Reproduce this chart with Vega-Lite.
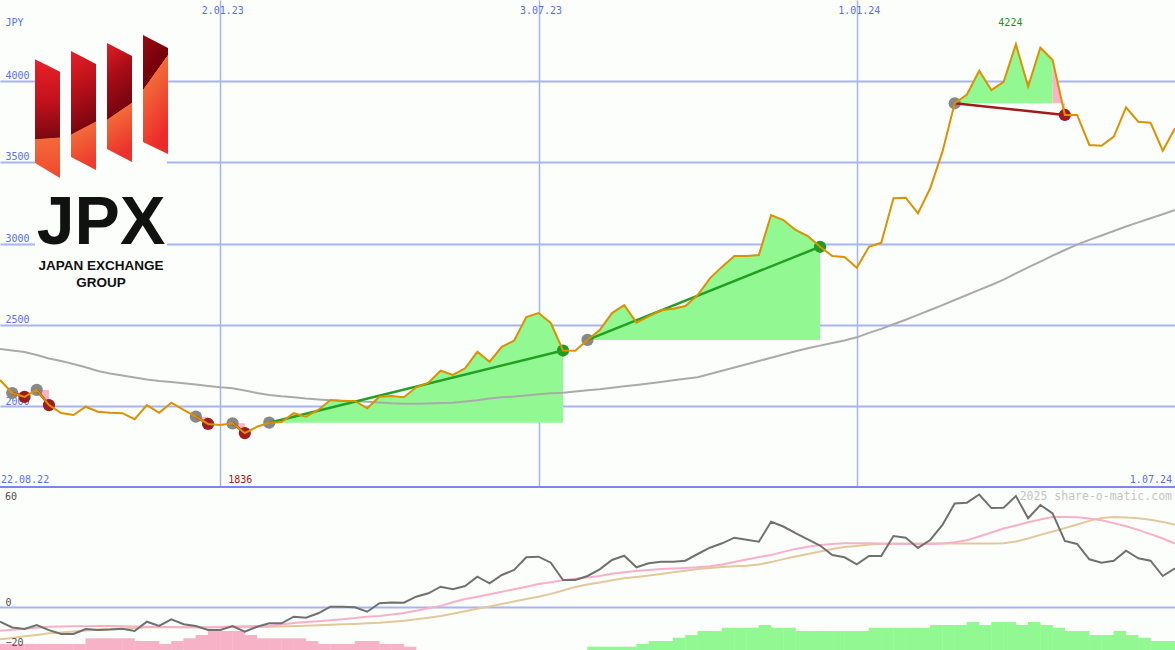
{
  "$schema": "https://vega.github.io/schema/vega-lite/v6.json",
  "width": 1175,
  "height": 650,
  "autosize": {"type": "none"},
  "padding": 0,
  "background": "#fcfefc",
  "config": {
    "view": {"stroke": null},
    "scale": {"continuousPadding": 0},
    "axis": {"domain": false, "ticks": false, "tickSize": 0, "labelFont": "DejaVu Sans Mono", "labelFontSize": 10, "gridColor": "#a8b4f0", "gridOpacity": 1, "labelFlush": false, "labelOverlap": false}
  },
  "datasets": {
    "w": [
      {"d":"2022-08-29","p":2162,"ma":2352,"o":-7.1,"s1":-11.6,"s2":-15.9,"hn":-18.25},
      {"d":"2022-09-05","p":2082,"ma":2343,"o":-10,"s1":-11.1,"s2":-15.2,"hn":-18.25},
      {"d":"2022-09-12","p":2058,"ma":2334,"o":-10.75,"s1":-10.6,"s2":-14.4,"hn":-18.25},
      {"d":"2022-09-19","p":2101,"ma":2315,"o":-8.75,"s1":-10.1,"s2":-13.7,"hn":-18.25},
      {"d":"2022-09-26","p":2008,"ma":2294,"o":-11.3,"s1":-9.6,"s2":-12.9,"hn":-18.25},
      {"d":"2022-10-03","p":1959,"ma":2279,"o":-13.25,"s1":-9.5,"s2":-12.5,"hn":-18.25},
      {"d":"2022-10-10","p":1947,"ma":2260,"o":-13.25,"s1":-9.4,"s2":-12.0,"hn":-18.25},
      {"d":"2022-10-17","p":1998,"ma":2240,"o":-10.75,"s1":-9.35,"s2":-11.5,"hn":-15.4},
      {"d":"2022-10-24","p":1967,"ma":2217,"o":-11.25,"s1":-9.25,"s2":-11.0,"hn":-15.4},
      {"d":"2022-10-31","p":1961,"ma":2202,"o":-11,"s1":-9.3,"s2":-10.7,"hn":-15.4},
      {"d":"2022-11-07","p":1958,"ma":2190,"o":-10.6,"s1":-9.4,"s2":-10.5,"hn":-15.4},
      {"d":"2022-11-14","p":1921,"ma":2177,"o":-11.75,"s1":-9.5,"s2":-10.2,"hn":-16.75},
      {"d":"2022-11-21","p":2008,"ma":2165,"o":-7.1,"s1":-9.6,"s2":-9.9,"hn":-16.75},
      {"d":"2022-11-28","p":1961,"ma":2156,"o":-9.25,"s1":-9.7,"s2":-9.9,"hn":-18.25},
      {"d":"2022-12-05","p":2023,"ma":2150,"o":-5.9,"s1":-9.8,"s2":-9.9,"hn":-16.75},
      {"d":"2022-12-12","p":1978,"ma":2142,"o":-8.4,"s1":-9.9,"s2":-9.9,"hn":-15.4},
      {"d":"2022-12-19","p":1937,"ma":2134,"o":-9.25,"s1":-9.9,"s2":-9.9,"hn":-13.75},
      {"d":"2022-12-26","p":1892,"ma":2125,"o":-11.25,"s1":-9.95,"s2":-9.9,"hn":-11.75},
      {"d":"2023-01-02","p":1886,"ma":2117,"o":-11.25,"s1":-9.7,"s2":-9.9,"hn":-11.75},
      {"d":"2023-01-09","p":1896,"ma":2111,"o":-9.25,"s1":-9.5,"s2":-9.9,"hn":-11.75},
      {"d":"2023-01-16","p":1836,"ma":2098,"o":-12.1,"s1":-9.4,"s2":-9.9,"hn":-13.75},
      {"d":"2023-01-23","p":1875,"ma":2082,"o":-9.6,"s1":-9.3,"s2":-9.8,"hn":-15.4},
      {"d":"2023-01-30","p":1900,"ma":2070,"o":-7.9,"s1":-9.1,"s2":-9.6,"hn":-15.4},
      {"d":"2023-02-06","p":1904,"ma":2062,"o":-7.9,"s1":-8.5,"s2":-9.5,"hn":-15.4},
      {"d":"2023-02-13","p":1958,"ma":2056,"o":-4.6,"s1":-7.8,"s2":-9.3,"hn":-15.4},
      {"d":"2023-02-20","p":1937,"ma":2048,"o":-5.1,"s1":-7.3,"s2":-9.1,"hn":-16.75},
      {"d":"2023-02-27","p":1978,"ma":2042,"o":-2.9,"s1":-6.9,"s2":-8.9,"hn":-18.25},
      {"d":"2023-03-06","p":2039,"ma":2037,"o":0.4,"s1":-6.4,"s2":-8.6,"hn":-18.25},
      {"d":"2023-03-13","p":2033,"ma":2034,"o":0.4,"s1":-5.9,"s2":-8.4,"hn":-18.25},
      {"d":"2023-03-20","p":2033,"ma":2031,"o":0.1,"s1":-5.2,"s2":-8.2,"hn":-16.75},
      {"d":"2023-03-27","p":1988,"ma":2028,"o":-2.1,"s1":-4.6,"s2":-7.9,"hn":-16.75},
      {"d":"2023-04-03","p":2059,"ma":2024,"o":2.1,"s1":-4.2,"s2":-7.6,"hn":-18.25},
      {"d":"2023-04-10","p":2064,"ma":2019,"o":2.5,"s1":-3.5,"s2":-7.1,"hn":-18.25},
      {"d":"2023-04-17","p":2056,"ma":2016,"o":2.4,"s1":-2.7,"s2":-6.6,"hn":-19.6},
      {"d":"2023-04-24","p":2117,"ma":2016,"o":5.4,"s1":-1.6,"s2":-5.9},
      {"d":"2023-05-01","p":2145,"ma":2018,"o":7.1,"s1":-0.4,"s2":-5.1},
      {"d":"2023-05-08","p":2219,"ma":2020,"o":10.4,"s1":0.8,"s2":-4.2},
      {"d":"2023-05-15","p":2193,"ma":2023,"o":9.1,"s1":2.6,"s2":-3.1},
      {"d":"2023-05-22","p":2234,"ma":2030,"o":10.75,"s1":4.2,"s2":-1.9},
      {"d":"2023-05-29","p":2336,"ma":2037,"o":15.4,"s1":5.4,"s2":-0.6},
      {"d":"2023-06-05","p":2274,"ma":2048,"o":12.1,"s1":6.6,"s2":0.5},
      {"d":"2023-06-12","p":2366,"ma":2056,"o":16.25,"s1":7.9,"s2":1.8},
      {"d":"2023-06-19","p":2403,"ma":2060,"o":18.75,"s1":9.1,"s2":3.0},
      {"d":"2023-06-26","p":2549,"ma":2067,"o":25.1,"s1":10.4,"s2":4.2},
      {"d":"2023-07-03","p":2573,"ma":2075,"o":25.4,"s1":11.7,"s2":5.4},
      {"d":"2023-07-10","p":2512,"ma":2080,"o":22.4,"s1":12.6,"s2":6.8},
      {"d":"2023-07-17","p":2343,"ma":2084,"o":13.75,"s1":13.6,"s2":8.5},
      {"d":"2023-07-24","p":2341,"ma":2091,"o":13.75,"s1":14.4,"s2":10.3},
      {"d":"2023-07-31","p":2408,"ma":2099,"o":15.75,"s1":15.0,"s2":11.5,"hp":-19.6},
      {"d":"2023-08-07","p":2469,"ma":2105,"o":19.1,"s1":15.8,"s2":12.5,"hp":-19.6},
      {"d":"2023-08-14","p":2573,"ma":2114,"o":23.75,"s1":16.9,"s2":13.6,"hp":-19.6},
      {"d":"2023-08-21","p":2622,"ma":2123,"o":25.9,"s1":17.6,"s2":14.6,"hp":-19.6},
      {"d":"2023-08-28","p":2514,"ma":2131,"o":20.1,"s1":18.3,"s2":15.3,"hp":-18.25},
      {"d":"2023-09-04","p":2553,"ma":2140,"o":22.1,"s1":18.8,"s2":16.0,"hp":-16.75},
      {"d":"2023-09-11","p":2590,"ma":2150,"o":22.9,"s1":19.2,"s2":16.8,"hp":-16.75},
      {"d":"2023-09-18","p":2600,"ma":2161,"o":22.9,"s1":19.5,"s2":17.6,"hp":-15.1},
      {"d":"2023-09-25","p":2616,"ma":2170,"o":23.4,"s1":19.8,"s2":18.4,"hp":-13.75},
      {"d":"2023-10-02","p":2684,"ma":2179,"o":26.75,"s1":20.1,"s2":19.2,"hp":-11.75},
      {"d":"2023-10-09","p":2786,"ma":2199,"o":29.9,"s1":20.6,"s2":19.8,"hp":-11.75},
      {"d":"2023-10-16","p":2858,"ma":2219,"o":32.1,"s1":21.5,"s2":20.3,"hp":-10.1},
      {"d":"2023-10-23","p":2923,"ma":2239,"o":34.9,"s1":22.8,"s2":20.6,"hp":-10.1},
      {"d":"2023-10-30","p":2923,"ma":2259,"o":33.9,"s1":24.0,"s2":20.9,"hp":-10.1},
      {"d":"2023-11-06","p":2929,"ma":2279,"o":32.9,"s1":25.2,"s2":21.5,"hp":-8.75},
      {"d":"2023-11-13","p":3175,"ma":2299,"o":42.9,"s1":26.3,"s2":22.7,"hp":-10.1},
      {"d":"2023-11-20","p":3144,"ma":2319,"o":40.5,"s1":27.8,"s2":24.2,"hp":-10.1},
      {"d":"2023-11-27","p":3083,"ma":2339,"o":37.2,"s1":29.3,"s2":25.5,"hp":-11.75},
      {"d":"2023-12-04","p":3046,"ma":2357,"o":34.1,"s1":30.4,"s2":26.8,"hp":-11.75},
      {"d":"2023-12-11","p":2980,"ma":2373,"o":31,"s1":31.2,"s2":28.0,"hp":-11.75},
      {"d":"2023-12-18","p":2923,"ma":2389,"o":26.25,"s1":31.8,"s2":29.2,"hp":-11.75},
      {"d":"2023-12-25","p":2917,"ma":2405,"o":25.1,"s1":32.1,"s2":30.2,"hp":-11.75},
      {"d":"2024-01-01","p":2851,"ma":2424,"o":21.6,"s1":32.1,"s2":30.8,"hp":-11.75},
      {"d":"2024-01-08","p":2980,"ma":2451,"o":25.75,"s1":32.1,"s2":31.5,"hp":-10.1},
      {"d":"2024-01-15","p":3005,"ma":2476,"o":25.75,"s1":32.0,"s2":31.8,"hp":-10.1},
      {"d":"2024-01-22","p":3278,"ma":2504,"o":35.75,"s1":31.9,"s2":31.9,"hp":-10.1},
      {"d":"2024-01-29","p":3281,"ma":2532,"o":34.9,"s1":31.8,"s2":32.0,"hp":-10.1},
      {"d":"2024-02-05","p":3185,"ma":2562,"o":29.8,"s1":31.7,"s2":32.0,"hp":-10.1},
      {"d":"2024-02-12","p":3339,"ma":2592,"o":33.75,"s1":31.7,"s2":32.0,"hp":-8.75},
      {"d":"2024-02-19","p":3564,"ma":2622,"o":41.25,"s1":32.0,"s2":32.0,"hp":-8.75},
      {"d":"2024-02-26","p":3861,"ma":2653,"o":52,"s1":32.6,"s2":32.0,"hp":-8.75},
      {"d":"2024-03-04","p":3915,"ma":2684,"o":52.4,"s1":33.6,"s2":32.0,"hp":-7.25},
      {"d":"2024-03-11","p":4061,"ma":2715,"o":56.5,"s1":35.5,"s2":32.0,"hp":-8.75},
      {"d":"2024-03-18","p":3942,"ma":2745,"o":49.7,"s1":37.5,"s2":32.0,"hp":-7.25},
      {"d":"2024-03-25","p":3993,"ma":2778,"o":49.9,"s1":39.5,"s2":32.1,"hp":-7.25},
      {"d":"2024-04-01","p":4224,"ma":2816,"o":55.75,"s1":41.0,"s2":33.0,"hp":-8.75},
      {"d":"2024-04-08","p":3963,"ma":2853,"o":44.6,"s1":42.6,"s2":34.5,"hp":-7.25},
      {"d":"2024-04-15","p":4202,"ma":2889,"o":51.25,"s1":44.0,"s2":36.3,"hp":-8.75},
      {"d":"2024-04-22","p":4127,"ma":2925,"o":47.1,"s1":45.2,"s2":38.0,"hp":-10.1},
      {"d":"2024-04-29","p":3789,"ma":2960,"o":33.25,"s1":45.3,"s2":39.7,"hp":-11.75},
      {"d":"2024-05-06","p":3789,"ma":2993,"o":31.75,"s1":45.1,"s2":41.5,"hp":-11.75},
      {"d":"2024-05-13","p":3605,"ma":3022,"o":24.1,"s1":44.5,"s2":43.3,"hp":-13.75},
      {"d":"2024-05-20","p":3600,"ma":3049,"o":22.4,"s1":43.6,"s2":44.8,"hp":-13.75},
      {"d":"2024-05-27","p":3656,"ma":3077,"o":23.4,"s1":42.2,"s2":45.2,"hp":-11.75},
      {"d":"2024-06-03","p":3836,"ma":3104,"o":28.4,"s1":40.6,"s2":45.0,"hp":-13.75},
      {"d":"2024-06-10","p":3748,"ma":3130,"o":24.6,"s1":38.8,"s2":44.6,"hp":-15.1},
      {"d":"2024-06-17","p":3742,"ma":3155,"o":23.4,"s1":36.7,"s2":43.9,"hp":-16.75},
      {"d":"2024-06-24","p":3570,"ma":3180,"o":15.75,"s1":34.5,"s2":42.8,"hp":-16.75},
      {"d":"2024-07-01","p":3707,"ma":3206,"o":19.6,"s1":32.0,"s2":41.3,"hp":-16.75}
    ],
    "tr": [
      {"d":"2022-09-05","p":2082,"d2":"2022-09-12","p2":2058,"res":"r"},
      {"d":"2022-09-19","p":2101,"d2":"2022-09-26","p2":2008,"res":"r"},
      {"d":"2022-12-19","p":1937,"d2":"2022-12-26","p2":1892,"res":"r"},
      {"d":"2023-01-09","p":1896,"d2":"2023-01-16","p2":1836,"res":"r"},
      {"d":"2023-01-30","p":1900,"d2":"2023-07-17","p2":2343,"res":"g"},
      {"d":"2023-07-31","p":2408,"d2":"2023-12-11","p2":2980,"res":"g"},
      {"d":"2024-02-26","p":3861,"d2":"2024-04-29","p2":3789,"res":"r"}
    ],
    "fill": [
      {"g":"1r","c":"r","d":"2022-09-05","p":2082,"b":2082},
      {"g":"1r","c":"r","d":"2022-09-12","p":2058,"b":2082},
      {"g":"2r","c":"r","d":"2022-09-19","p":2101,"b":2101},
      {"g":"2r","c":"r","d":"2022-09-26","p":2008,"b":2101},
      {"g":"3r","c":"r","d":"2022-12-19","p":1937,"b":1937},
      {"g":"3r","c":"r","d":"2022-12-26","p":1892,"b":1937},
      {"g":"4r","c":"r","d":"2023-01-09","p":1896,"b":1896},
      {"g":"4r","c":"r","d":"2023-01-16","p":1836,"b":1896},
      {"g":"5g","c":"g","d":"2023-01-30","p":1900,"b":1900},
      {"g":"5g","c":"g","d":"2023-02-06","p":1904,"b":1900},
      {"g":"5g","c":"g","d":"2023-02-13","p":1958,"b":1900},
      {"g":"5g","c":"g","d":"2023-02-20","p":1937,"b":1900},
      {"g":"5g","c":"g","d":"2023-02-27","p":1978,"b":1900},
      {"g":"5g","c":"g","d":"2023-03-06","p":2039,"b":1900},
      {"g":"5g","c":"g","d":"2023-03-13","p":2033,"b":1900},
      {"g":"5g","c":"g","d":"2023-03-20","p":2033,"b":1900},
      {"g":"5g","c":"g","d":"2023-03-27","p":1988,"b":1900},
      {"g":"5g","c":"g","d":"2023-04-03","p":2059,"b":1900},
      {"g":"5g","c":"g","d":"2023-04-10","p":2064,"b":1900},
      {"g":"5g","c":"g","d":"2023-04-17","p":2056,"b":1900},
      {"g":"5g","c":"g","d":"2023-04-24","p":2117,"b":1900},
      {"g":"5g","c":"g","d":"2023-05-01","p":2145,"b":1900},
      {"g":"5g","c":"g","d":"2023-05-08","p":2219,"b":1900},
      {"g":"5g","c":"g","d":"2023-05-15","p":2193,"b":1900},
      {"g":"5g","c":"g","d":"2023-05-22","p":2234,"b":1900},
      {"g":"5g","c":"g","d":"2023-05-29","p":2336,"b":1900},
      {"g":"5g","c":"g","d":"2023-06-05","p":2274,"b":1900},
      {"g":"5g","c":"g","d":"2023-06-12","p":2366,"b":1900},
      {"g":"5g","c":"g","d":"2023-06-19","p":2403,"b":1900},
      {"g":"5g","c":"g","d":"2023-06-26","p":2549,"b":1900},
      {"g":"5g","c":"g","d":"2023-07-03","p":2573,"b":1900},
      {"g":"5g","c":"g","d":"2023-07-10","p":2512,"b":1900},
      {"g":"5g","c":"g","d":"2023-07-17","p":2343,"b":1900},
      {"g":"6g","c":"g","d":"2023-07-31","p":2408,"b":2408},
      {"g":"6g","c":"g","d":"2023-08-07","p":2469,"b":2408},
      {"g":"6g","c":"g","d":"2023-08-14","p":2573,"b":2408},
      {"g":"6g","c":"g","d":"2023-08-21","p":2622,"b":2408},
      {"g":"6g","c":"g","d":"2023-08-28","p":2514,"b":2408},
      {"g":"6g","c":"g","d":"2023-09-04","p":2553,"b":2408},
      {"g":"6g","c":"g","d":"2023-09-11","p":2590,"b":2408},
      {"g":"6g","c":"g","d":"2023-09-18","p":2600,"b":2408},
      {"g":"6g","c":"g","d":"2023-09-25","p":2616,"b":2408},
      {"g":"6g","c":"g","d":"2023-10-02","p":2684,"b":2408},
      {"g":"6g","c":"g","d":"2023-10-09","p":2786,"b":2408},
      {"g":"6g","c":"g","d":"2023-10-16","p":2858,"b":2408},
      {"g":"6g","c":"g","d":"2023-10-23","p":2923,"b":2408},
      {"g":"6g","c":"g","d":"2023-10-30","p":2923,"b":2408},
      {"g":"6g","c":"g","d":"2023-11-06","p":2929,"b":2408},
      {"g":"6g","c":"g","d":"2023-11-13","p":3175,"b":2408},
      {"g":"6g","c":"g","d":"2023-11-20","p":3144,"b":2408},
      {"g":"6g","c":"g","d":"2023-11-27","p":3083,"b":2408},
      {"g":"6g","c":"g","d":"2023-12-04","p":3046,"b":2408},
      {"g":"6g","c":"g","d":"2023-12-11","p":2980,"b":2408},
      {"g":"7g","c":"g","d":"2024-02-26","p":3861,"b":3861},
      {"g":"7g","c":"g","d":"2024-03-04","p":3915,"b":3861},
      {"g":"7g","c":"g","d":"2024-03-11","p":4061,"b":3861},
      {"g":"7g","c":"g","d":"2024-03-18","p":3942,"b":3861},
      {"g":"7g","c":"g","d":"2024-03-25","p":3993,"b":3861},
      {"g":"7g","c":"g","d":"2024-04-01","p":4224,"b":3861},
      {"g":"7g","c":"g","d":"2024-04-08","p":3963,"b":3861},
      {"g":"7g","c":"g","d":"2024-04-15","p":4202,"b":3861},
      {"g":"7g","c":"g","d":"2024-04-22","p":4127,"b":3861},
      {"g":"7r","c":"r","d":"2024-04-22","p":4127,"b":3861},
      {"g":"7r","c":"r","d":"2024-04-29","p":3789,"b":3861}
    ],
    "logobox": [
      {"x1":"2022-09-18T00:00:00Z","x2":"2022-12-02T12:00:00Z","y1":4323,"y2":2653}
    ],
    "logobars": [
      {"bar":1,"x":"2022-09-18T00:30:00Z","top":4131,"bot":3494},
      {"bar":1,"x":"2022-10-02T07:30:00Z","top":4055,"bot":3402},
      {"bar":2,"x":"2022-10-08T14:40:00Z","top":4182,"bot":3531},
      {"bar":2,"x":"2022-10-22T21:40:00Z","top":4102,"bot":3451},
      {"bar":3,"x":"2022-10-29T04:50:00Z","top":4231,"bot":3580},
      {"bar":3,"x":"2022-11-12T11:50:00Z","top":4151,"bot":3500},
      {"bar":4,"x":"2022-11-18T18:50:00Z","top":4280,"bot":3623},
      {"bar":4,"x":"2022-12-03T02:00:00Z","top":4200,"bot":3550}
    ],
    "logotext": [
      {"t":"JPX","x":"2022-10-25T18:15:00Z","y":2997},
      {"t":"JAPAN EXCHANGE","x":"2022-10-25T18:15:00Z","y":2839},
      {"t":"GROUP","x":"2022-10-25T18:15:00Z","y":2733}
    ]
  },
  "layer": [
    {
      "resolve": {"scale": {"color": "independent"}},
      "layer": [
        {
          "data": {"name": "logobox"},
          "mark": {"type": "rect", "color": "#fcfefc"},
          "encoding": {
            "x": {"field": "x1", "type": "temporal"},
            "x2": {"field": "x2"},
            "y": {"field": "y1", "type": "quantitative"},
            "y2": {"field": "y2"}
          }
        },
        {
          "data": {"name": "logobars"},
          "transform": [{"filter": "datum.bar === 1"}],
          "mark": {"type": "area", "color": {"gradient": "linear", "x1": 0, "y1": 0, "x2": 0.015, "y2": 1, "stops": [{"offset": 0, "color": "#ea2129"}, {"offset": 0.35, "color": "#c3121c"}, {"offset": 0.67, "color": "#7c0810"}, {"offset": 0.676, "color": "#f26a38"}, {"offset": 1, "color": "#f04a30"}]}},
          "encoding": {
            "x": {"field": "x", "type": "temporal"},
            "y": {"field": "top", "type": "quantitative"},
            "y2": {"field": "bot"}
          }
        },
        {
          "data": {"name": "logobars"},
          "transform": [{"filter": "datum.bar === 2"}],
          "mark": {"type": "area", "color": {"gradient": "linear", "x1": 0, "y1": 0, "x2": 0.11, "y2": 1, "stops": [{"offset": 0, "color": "#e81f28"}, {"offset": 0.35, "color": "#b8101a"}, {"offset": 0.69, "color": "#7a0610"}, {"offset": 0.697, "color": "#f26a38"}, {"offset": 1, "color": "#ee3c2e"}]}},
          "encoding": {
            "x": {"field": "x", "type": "temporal"},
            "y": {"field": "top", "type": "quantitative"},
            "y2": {"field": "bot"}
          }
        },
        {
          "data": {"name": "logobars"},
          "transform": [{"filter": "datum.bar === 3"}],
          "mark": {"type": "area", "color": {"gradient": "linear", "x1": 0, "y1": 0, "x2": 0.143, "y2": 1, "stops": [{"offset": 0, "color": "#e41e28"}, {"offset": 0.3, "color": "#a80c16"}, {"offset": 0.628, "color": "#760510"}, {"offset": 0.634, "color": "#f26a38"}, {"offset": 1, "color": "#ec302c"}]}},
          "encoding": {
            "x": {"field": "x", "type": "temporal"},
            "y": {"field": "top", "type": "quantitative"},
            "y2": {"field": "bot"}
          }
        },
        {
          "data": {"name": "logobars"},
          "transform": [{"filter": "datum.bar === 4"}],
          "mark": {"type": "area", "color": {"gradient": "linear", "x1": 0, "y1": 0, "x2": 0.294, "y2": 1, "stops": [{"offset": 0, "color": "#9a0a12"}, {"offset": 0.42, "color": "#720008"}, {"offset": 0.426, "color": "#f26a38"}, {"offset": 1, "color": "#ec2a2a"}]}},
          "encoding": {
            "x": {"field": "x", "type": "temporal"},
            "y": {"field": "top", "type": "quantitative"},
            "y2": {"field": "bot"}
          }
        },
        {
          "data": {"name": "logotext"},
          "transform": [{"filter": "datum.t === 'JPX'"}],
          "mark": {"type": "text", "font": "Liberation Sans", "fontWeight": "bold", "fontSize": 68, "color": "#111111", "align": "center", "baseline": "alphabetic"},
          "encoding": {
            "x": {"field": "x", "type": "temporal"},
            "y": {"field": "y", "type": "quantitative"},
            "text": {"field": "t"}
          }
        },
        {
          "data": {"name": "logotext"},
          "transform": [{"filter": "datum.t !== 'JPX'"}],
          "mark": {"type": "text", "font": "Liberation Sans", "fontWeight": "bold", "fontSize": 13.5, "color": "#111111", "align": "center", "baseline": "alphabetic"},
          "encoding": {
            "x": {"field": "x", "type": "temporal"},
            "y": {"field": "y", "type": "quantitative"},
            "text": {"field": "t"}
          }
        },
        {
          "data": {"name": "fill"},
          "mark": {"type": "area", "opacity": 1},
          "encoding": {
            "x": {"field": "d", "type": "temporal"},
            "y": {"field": "p", "type": "quantitative"},
            "y2": {"field": "b"},
            "color": {"field": "c", "type": "nominal", "scale": {"domain": ["g", "r"], "range": ["#92f892", "#fbb4c6"]}, "legend": null},
            "detail": {"field": "g"}
          }
        },
        {
          "data": {"name": "w"},
          "mark": {"type": "line", "color": "#aaaaaa", "strokeWidth": 2},
          "encoding": {
            "x": {"field": "d", "type": "temporal"},
            "y": {"field": "ma", "type": "quantitative"}
          }
        },
        {
          "data": {"name": "tr"},
          "mark": {"type": "circle", "size": 150, "color": "#888888", "opacity": 1},
          "encoding": {
            "x": {"field": "d", "type": "temporal"},
            "y": {"field": "p", "type": "quantitative"}
          }
        },
        {
          "data": {"name": "tr"},
          "mark": {"type": "circle", "size": 150, "opacity": 1},
          "encoding": {
            "x": {"field": "d2", "type": "temporal"},
            "y": {"field": "p2", "type": "quantitative"},
            "color": {"field": "res", "type": "nominal", "scale": {"domain": ["g", "r"], "range": ["#229922", "#a01c1c"]}, "legend": null}
          }
        },
        {
          "data": {"name": "tr"},
          "mark": {"type": "rule", "strokeWidth": 2.5},
          "encoding": {
            "x": {"field": "d", "type": "temporal"},
            "x2": {"field": "d2"},
            "y": {"field": "p", "type": "quantitative"},
            "y2": {"field": "p2"},
            "color": {"field": "res", "type": "nominal", "scale": {"domain": ["g", "r"], "range": ["#22a022", "#a01c1c"]}, "legend": null}
          }
        },
        {
          "data": {"name": "w"},
          "mark": {"type": "line", "color": "#dd9100", "strokeWidth": 2},
          "encoding": {
            "x": {
              "field": "d", "type": "temporal",
              "scale": {"type": "utc", "padding": 0, "nice": false, "domain": [{"year": 2022, "month": 8, "date": 29, "utc": true}, {"year": 2024, "month": 7, "date": 1, "utc": true}]},
              "axis": {
                "orient": "top", "title": null,
                "values": [{"year": 2023, "month": 1, "date": 2, "utc": true}, {"year": 2023, "month": 7, "date": 3, "utc": true}, {"year": 2024, "month": 1, "date": 1, "utc": true}],
                "format": "%-d.%m.%y", "labelColor": "#5a6ef0", "labelPadding": -13.3, "labelBaseline": "alphabetic", "labelAlign": "center", "labelOffset": 2,
                "grid": true, "gridWidth": 1.5, "gridColor": "#a8b4f0", "zindex": 0
              }
            },
            "y": {
              "field": "p", "type": "quantitative",
              "scale": {"domain": [1505, 4495], "range": [487, 0], "nice": false, "zero": false, "padding": 0},
              "axis": {
                "orient": "left", "values": [2000, 2500, 3000, 3500, 4000], "format": "d",
                "labelAlign": "left", "labelBaseline": "alphabetic", "labelPadding": -5, "labelOffset": -2.3, "labelColor": "#5a6ef0",
                "title": "JPY", "titleX": 5, "titleY": 25, "titleAngle": 0, "titleAlign": "left", "titleBaseline": "alphabetic",
                "titleFont": "DejaVu Sans Mono", "titleFontSize": 10, "titleFontWeight": "normal", "titleColor": "#5a6ef0",
                "grid": true, "gridWidth": 2, "gridColor": "#a8b4f0", "zindex": 0
              }
            }
          }
        },
        {
          "data": {"values": [{"t": "22.08.22"}]},
          "mark": {"type": "text", "align": "left", "baseline": "alphabetic", "dx": 1, "dy": -4.5, "color": "#5a6ef0", "font": "DejaVu Sans Mono", "fontSize": 10},
          "encoding": {
            "x": {"datum": {"year": 2022, "month": 8, "date": 29, "utc": true}, "type": "temporal"},
            "y": {"datum": 1505, "type": "quantitative"},
            "text": {"field": "t"}
          }
        },
        {
          "data": {"values": [{"t": "1.07.24"}]},
          "mark": {"type": "text", "align": "right", "baseline": "alphabetic", "dx": -3, "dy": -4.5, "color": "#5a6ef0", "font": "DejaVu Sans Mono", "fontSize": 10},
          "encoding": {
            "x": {"datum": {"year": 2024, "month": 7, "date": 1, "utc": true}, "type": "temporal"},
            "y": {"datum": 1505, "type": "quantitative"},
            "text": {"field": "t"}
          }
        },
        {
          "data": {"values": [{"d": "2023-01-16", "p": 1836, "t": "1836"}]},
          "mark": {"type": "text", "align": "center", "baseline": "alphabetic", "dx": -4.5, "dy": -4.5, "color": "#a01818", "font": "DejaVu Sans Mono", "fontSize": 10},
          "encoding": {
            "x": {"field": "d", "type": "temporal"},
            "y": {"datum": 1505, "type": "quantitative"},
            "text": {"field": "t"}
          }
        },
        {
          "data": {"values": [{"d": "2024-04-01", "p": 4224, "t": "4224"}]},
          "mark": {"type": "text", "align": "center", "baseline": "alphabetic", "dx": -5.5, "dy": -18.4, "color": "#119911", "font": "DejaVu Sans Mono", "fontSize": 10},
          "encoding": {
            "x": {"field": "d", "type": "temporal"},
            "y": {"field": "p", "type": "quantitative"},
            "text": {"field": "t"}
          }
        },
        {
          "data": {"values": [{}]},
          "mark": {"type": "rule", "color": "#7888ee", "strokeWidth": 2},
          "encoding": {"y": {"datum": 1505, "type": "quantitative"}}
        }
      ]
    },
    {
      "layer": [
        {
          "data": {"values": [{}]},
          "mark": {"type": "rule", "color": "#a8b4f0", "strokeWidth": 2},
          "encoding": {"y": {"datum": 0, "type": "quantitative"}}
        },
        {
          "data": {"name": "w"},
          "mark": {"type": "bar", "width": 12.6, "xOffset": 6.12, "color": "#f8b2c8"},
          "encoding": {
            "x": {"field": "d", "type": "temporal"},
            "y": {"field": "hn", "type": "quantitative"},
            "y2": {"datum": -21.25}
          }
        },
        {
          "data": {"name": "w"},
          "mark": {"type": "bar", "width": 12.6, "xOffset": 6.12, "color": "#92f892"},
          "encoding": {
            "x": {"field": "d", "type": "temporal"},
            "y": {"field": "hp", "type": "quantitative"},
            "y2": {"datum": -21.25}
          }
        },
        {
          "data": {"name": "w"},
          "mark": {"type": "line", "color": "#e2c89a", "strokeWidth": 2},
          "encoding": {
            "x": {"field": "d", "type": "temporal"},
            "y": {"field": "s2", "type": "quantitative"}
          }
        },
        {
          "data": {"name": "w"},
          "mark": {"type": "line", "color": "#f8b0c8", "strokeWidth": 2},
          "encoding": {
            "x": {"field": "d", "type": "temporal"},
            "y": {"field": "s1", "type": "quantitative"}
          }
        },
        {
          "data": {"name": "w"},
          "mark": {"type": "line", "color": "#707070", "strokeWidth": 2},
          "encoding": {
            "x": {"field": "d", "type": "temporal"},
            "y": {
              "field": "o", "type": "quantitative", "title": null,
              "scale": {"domain": [-21.25, 60.25], "range": [650, 487], "nice": false, "zero": false, "padding": 0},
              "axis": {
                "orient": "left", "values": [0, -20], "title": null,
                "labelAlign": "left", "labelBaseline": "alphabetic", "labelPadding": -5, "labelOffset": -2, "labelColor": "#505050",
                "grid": false, "zindex": 1
              }
            }
          }
        },
        {
          "data": {"values": [{"t": "60"}]},
          "mark": {"type": "text", "align": "left", "baseline": "alphabetic", "dx": 5, "dy": 12.5, "color": "#505050", "font": "DejaVu Sans Mono", "fontSize": 10},
          "encoding": {
            "x": {"datum": {"year": 2022, "month": 8, "date": 29, "utc": true}, "type": "temporal"},
            "y": {"datum": 60.25, "type": "quantitative"},
            "text": {"field": "t"}
          }
        },
        {
          "data": {"values": [{"t": "2025 share-o-matic.com"}]},
          "mark": {"type": "text", "align": "right", "baseline": "alphabetic", "dx": -3, "dy": 13, "color": "#c4c4c4", "font": "DejaVu Sans Mono", "fontSize": 11.5},
          "encoding": {
            "x": {"datum": {"year": 2024, "month": 7, "date": 1, "utc": true}, "type": "temporal"},
            "y": {"datum": 60.25, "type": "quantitative"},
            "text": {"field": "t"}
          }
        }
      ]
    }
  ],
  "resolve": {"scale": {"y": "independent"}, "axis": {"y": "independent"}}
}
